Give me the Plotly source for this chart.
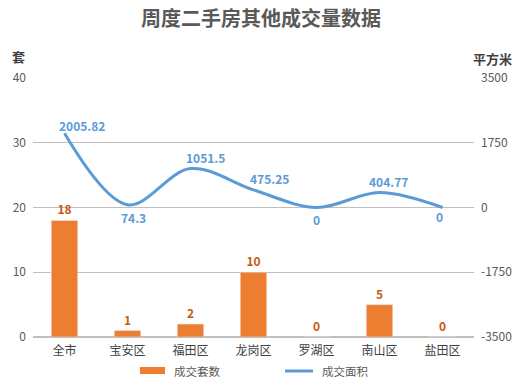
import plotly.graph_objects as go

categories = ["全市", "宝安区", "福田区", "龙岗区", "罗湖区", "南山区", "盐田区"]
units = [18, 1, 2, 10, 0, 5, 0]
area = [2005.82, 74.3, 1051.5, 475.25, 0, 404.77, 0]
area_text = ["2005.82", "74.3", "1051.5", "475.25", "0", "404.77", "0"]
right_ticks = [-3500, -1750, 0, 1750, 3500]
right_tick_text = ["-3500", "-1750", "0", "1750", "3500"]

# label offsets (pixels) for the line's data labels, as placed in the reference
label_dx = [17, 6, 15, 16, 0, 9, -3]
label_dy = [8, -13, 11, 11, -12, 11, -9]

FONT = "Noto Sans CJK SC"
GREY = "#595959"
ORANGE = "#ED7D31"
BLUE = "#5B9BD5"

# plot area in pixels
L, R, T, B = 33, 474, 78, 337
def px(x):
    return (x - L) / (R - L)
def py(y):
    return (B - y) / (B - T)

fig = go.Figure()
fig.add_trace(go.Bar(
    x=categories, y=units, name="成交套数",
    marker=dict(color=ORANGE), width=0.42,
    text=[str(v) for v in units], textposition="outside",
    textfont=dict(color="#C55A11", size=12, family=FONT, weight="bold"),
    cliponaxis=False,
))
fig.add_trace(go.Scatter(
    x=categories, y=area, name="成交面积", yaxis="y2",
    mode="lines", line=dict(color=BLUE, width=3, shape="spline", smoothing=1.0),
    cliponaxis=False,
))

annotations = []
for c, v, t, dx, dy in zip(categories, area, area_text, label_dx, label_dy):
    annotations.append(dict(
        x=c, y=v, xref="x", yref="y2", text=f"<b>{t}</b>", showarrow=False,
        xanchor="center", yanchor="middle", xshift=dx, yshift=dy,
        font=dict(color=BLUE, size=12, family=FONT),
    ))

annotations += [
    dict(text="<b>套</b>", xref="paper", yref="paper", x=px(18), y=py(57),
         xanchor="center", yanchor="middle", showarrow=False,
         font=dict(size=13, color="#404040")),
    dict(text="<b>平方米</b>", xref="paper", yref="paper", x=px(492), y=py(59),
         xanchor="center", yanchor="middle", showarrow=False,
         font=dict(size=13, color="#404040")),
    dict(text="成交套数", xref="paper", yref="paper", x=px(172), y=py(371),
         xanchor="left", yanchor="middle", showarrow=False,
         font=dict(size=11.5, color=GREY)),
    dict(text="成交面积", xref="paper", yref="paper", x=px(320), y=py(371),
         xanchor="left", yanchor="middle", showarrow=False,
         font=dict(size=11.5, color=GREY)),
]

shapes = [
    dict(type="rect", xref="paper", yref="paper", x0=px(140), x1=px(165),
         y0=py(374), y1=py(367), fillcolor=ORANGE, line=dict(width=0)),
    dict(type="line", xref="paper", yref="paper", x0=px(285), x1=px(313),
         y0=py(371), y1=py(371), line=dict(color=BLUE, width=3)),
]

fig.update_layout(
    width=522, height=384,
    margin=dict(l=L, r=522 - R, t=T, b=384 - B, autoexpand=False),
    paper_bgcolor="white", plot_bgcolor="white",
    font=dict(family=FONT, color=GREY, size=12),
    title=dict(text="<b>周度二手房其他成交量数据</b>", x=0.5, xanchor="center",
               y=1 - 19 / 384, yanchor="middle", xref="container", yref="container",
               font=dict(size=20, color=GREY, family=FONT)),
    showlegend=False,
    xaxis=dict(showgrid=False, showline=False, ticks="", automargin=False,
               tickfont=dict(size=12, color="#404040"), ticklabelstandoff=5),
    yaxis=dict(range=[0, 40], dtick=10, showgrid=True, gridcolor="#BFBFBF", gridwidth=1,
               zeroline=True, zerolinecolor="#BFBFBF", automargin=False,
               tickfont=dict(size=12, color=GREY), ticklabelstandoff=6),
    yaxis2=dict(range=[-3500, 3500], tickvals=right_ticks, ticktext=right_tick_text,
                overlaying="y", side="right", showgrid=False, zeroline=False,
                automargin=False, tickfont=dict(size=12, color=GREY), ticklabelstandoff=6),
    annotations=annotations,
    shapes=shapes,
)

fig.write_html("out.html", config={"displayModeBar": False},
               post_script="document.body.style.margin='0';document.body.style.overflow='hidden';")
